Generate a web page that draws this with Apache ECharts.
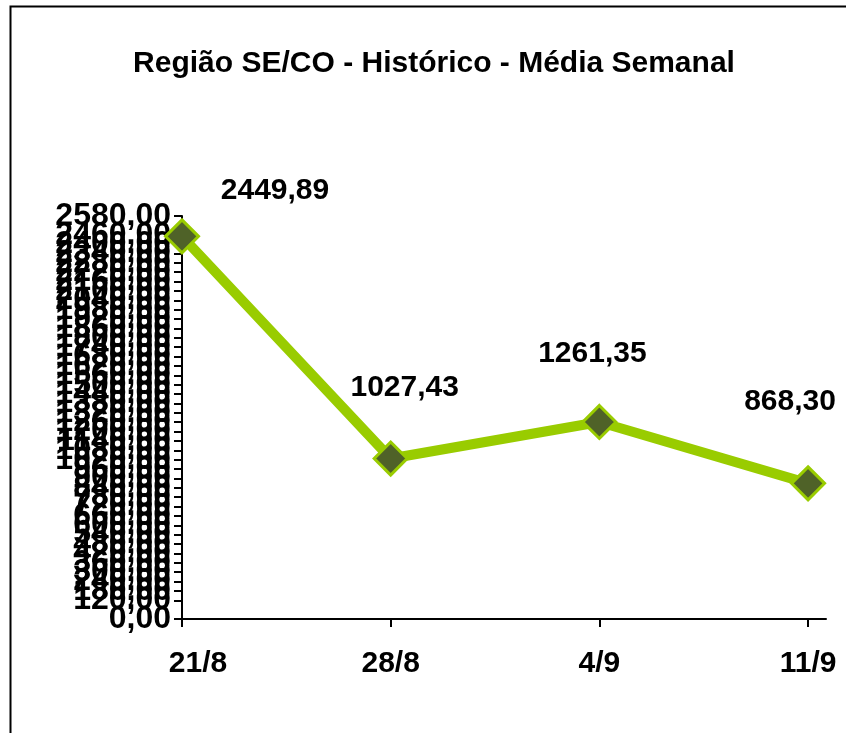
<!DOCTYPE html>
<html><head><meta charset="utf-8">
<script src="https://cdn.jsdelivr.net/npm/echarts@6/dist/echarts.min.js"></script>
<style>html,body{margin:0;padding:0;background:#fff}#c{width:846px;height:733px}</style>
</head><body><div id="c"></div>
<script>
const categories = ['21/8', '28/8', '4/9', '11/9'];
const values = [2449.89, 1027.43, 1261.35, 868.30];
const yMin = 0, yMax = 2580, yInterval = 60;

const fmt = v => v.toFixed(2).replace('.', ',');
const labelOffsets = [[93, -46], [14, -71], [-7, -68], [-18, -82]];
const FONT = 'Liberation Sans, Arial';

const chart = echarts.init(document.getElementById('c'));
chart.setOption({
  animation: false,
  backgroundColor: '#fff',
  graphic: [{
    type: 'rect', left: 8, top: 4,
    shape: { width: 900, height: 800 },
    style: { fill: 'none', stroke: '#000', lineWidth: 2 }, silent: true
  }],
  title: {
    text: 'Região SE/CO - Histórico - Média Semanal',
    left: 429, top: 44, textAlign: 'center',
    textStyle: { fontFamily: FONT, fontWeight: 'bold', fontSize: 30, color: '#000' }
  },
  grid: { left: 182, right: 20, top: 216, bottom: 114, containLabel: false },
  xAxis: {
    type: 'value', min: 0, max: 3.086, interval: 1,
    splitLine: { show: false },
    axisLine: { show: true, lineStyle: { color: '#000', width: 2 } },
    axisTick: { show: true, length: 8, lineStyle: { color: '#000', width: 2 } },
    axisLabel: {
      margin: 30, color: '#000', fontFamily: FONT, fontWeight: 'bold', fontSize: 30,
      showMaxLabel: false,
      formatter: v => {
        const i = Math.round(v);
        if (Math.abs(v - i) > 1e-6 || categories[i] === undefined) return '';
        return i === 0 ? '{first|' + categories[i] + '}' : categories[i];
      },
      rich: { first: { padding: [0, 0, 0, 32], fontFamily: FONT, fontWeight: 'bold', fontSize: 30, color: '#000' } }
    }
  },
  yAxis: {
    type: 'value', min: yMin, max: yMax, interval: yInterval,
    splitLine: { show: false },
    axisLine: { show: true, lineStyle: { color: '#000', width: 2 } },
    axisTick: { show: true, length: 8, lineStyle: { color: '#000', width: 2 } },
    axisLabel: {
      margin: 11, color: '#000', fontFamily: FONT, fontWeight: 'bold', fontSize: 32,
      showMinLabel: true, showMaxLabel: true, hideOverlap: false,
      formatter: v => fmt(v)
    }
  },
  series: [{
    type: 'line',
    data: values.map((v, i) => ({
      value: [i, v],
      label: { offset: labelOffsets[i] }
    })),
    lineStyle: { color: '#99CC00', width: 10 },
    symbol: 'diamond', symbolSize: [33, 33],
    itemStyle: { color: '#4F6228', borderColor: '#99CC00', borderWidth: 3 },
    label: {
      show: true, position: 'inside',
      formatter: p => fmt(p.value[1]),
      color: '#000', fontFamily: FONT, fontWeight: 'bold', fontSize: 30
    },
    z: 3
  }]
});
</script></body></html>
